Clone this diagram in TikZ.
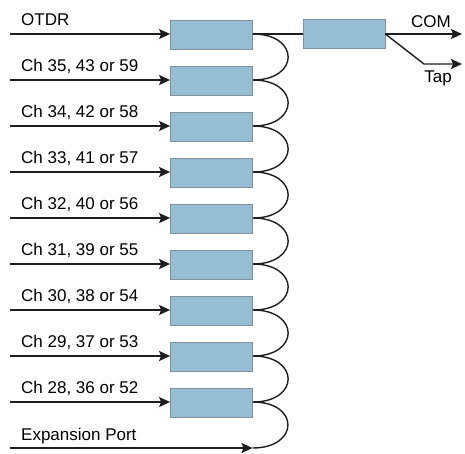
\documentclass[tikz,border=0pt]{standalone}
\usepackage{fontspec}
\setmainfont{Liberation Sans}
\usetikzlibrary{arrows.meta}

\begin{document}
\begin{tikzpicture}[x=1pt,y=-1pt]
  \definecolor{kBox}{RGB}{150,189,212}
  \definecolor{kEdge}{RGB}{128,146,160}
  \definecolor{kWire}{RGB}{30,30,30}
  \tikzset{
    boxnode/.style={draw=kEdge,fill=kBox,line width=0.8pt,minimum width=82pt,minimum height=29pt,inner sep=0pt},
    wire/.style={color=kWire,line width=1.4pt},
    tip/.style={-{Stealth[length=11pt,width=10pt,inset=2pt]}},
    lbl/.style={font=\fontsize{17}{20}\selectfont,inner sep=0pt}
  }
  \useasboundingbox (0,0) rectangle (465,453);

  \foreach \i/\txt in {1/OTDR,
                       2/{Ch 35, 43 or 59},
                       3/{Ch 34, 42 or 58},
                       4/{Ch 33, 41 or 57},
                       5/{Ch 32, 40 or 56},
                       6/{Ch 31, 39 or 55},
                       7/{Ch 30, 38 or 54},
                       8/{Ch 29, 37 or 53},
                       9/{Ch 28, 36 or 52}}
  {
    \node[boxnode] (b\i) at (211.5,{34.5+46*(\i-1)}) {};
    \coordinate (in\i) at (10,{34+46*(\i-1)});
    \node[lbl,anchor=base west] (t\i) at (21,{25+46*(\i-1)}) {\txt};
    \draw[wire,tip] (in\i) -- (in\i -| b\i.west);
  }

  % loop-back between the stages
  \foreach \i/\j in {1/2,2/3,3/4,4/5,5/6,6/7,7/8,8/9}
    \draw[wire] (in\i -| b\i.east) .. controls +(47,0) and +(47,0) .. (in\j -| b\j.east);

  % expansion port
  \coordinate (ex0) at (10,448);
  \coordinate (ex1) at (252.5,448);
  \node[lbl,anchor=base west] (tex) at (21,440) {Expansion Port};
  \draw[wire,tip] (ex0) -- (ex1);
  \draw[wire] (in9 -| b9.east) .. controls +(47,0) and +(47,0) .. (ex1);

  % tap coupler
  \node[boxnode] (cpl) at (344,34) {};
  \draw[wire] (in1 -| b1.east) -- (cpl.west);
  \coordinate (com) at (462,34);
  \coordinate (knee) at (424,64);
  \coordinate (tap) at (462,64);
  \draw[wire,tip] (cpl.east) -- (com);
  \draw[wire,tip] (cpl.east) -- (knee) -- (tap);
  \node[lbl,anchor=base] (tcom) at (431,27) {COM};
  \node[lbl,anchor=base] (ttap) at (438,82) {Tap};
\end{tikzpicture}
\end{document}
